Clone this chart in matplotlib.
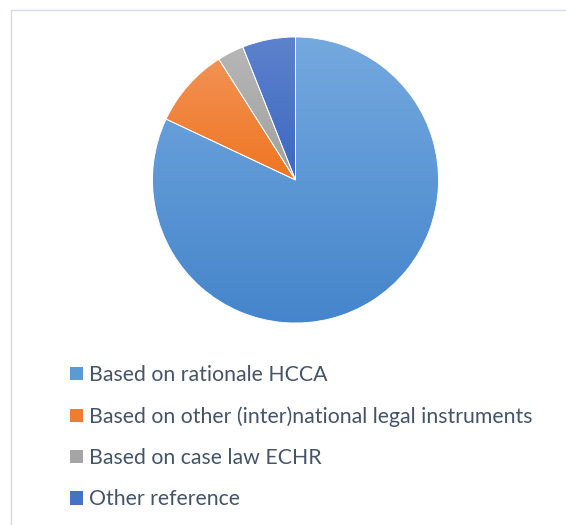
import matplotlib
matplotlib.use("Agg")
import matplotlib.pyplot as plt
import numpy as np
from matplotlib.colors import LinearSegmentedColormap
from matplotlib.patches import Patch
from matplotlib.lines import Line2D

labels = ["Based on rationale HCCA",
          "Based on other (inter)national legal instruments",
          "Based on case law ECHR",
          "Other reference"]
values = [82, 9, 3, 6]
top_colors = ["#74a9df", "#f29255", "#b6b6b6", "#5d82cd"]
bottom_colors = ["#4585cb", "#ef7520", "#a0a0a0", "#3c68c1"]
legend_colors = ["#5b9bd5", "#ed7d31", "#a5a5a5", "#4472c4"]

W, H = 566, 525
fig = plt.figure(figsize=(W / 100, H / 100), dpi=100)

cx, cy, r = 295.5, 180, 143
ax = fig.add_axes([(cx - r) / W, (H - cy - r) / H, 2 * r / W, 2 * r / H])
wedges, _ = ax.pie(values, startangle=90, counterclock=False, radius=1,
                   colors=legend_colors,
                   wedgeprops=dict(edgecolor="white", linewidth=0.6))
ax.set_aspect("equal")
ax.axis("off")

grad = np.linspace(0, 1, 256).reshape(-1, 1)
for w, tc, bc in zip(wedges, top_colors, bottom_colors):
    ext = w.get_path().get_extents()
    cmap = LinearSegmentedColormap.from_list("g", [bc, tc])
    im = ax.imshow(grad, cmap=cmap, origin="lower", aspect="auto",
                   extent=[ext.x0, ext.x1, ext.y0, ext.y1], zorder=w.get_zorder() + 0.1)
    im.set_clip_path(w)
    w.set_facecolor("none")
    w.set_zorder(w.get_zorder() + 0.2)
ax.set_xlim(-1.0, 1.0)
ax.set_ylim(-1.0, 1.0)

fs = 15.3
handles = [Patch(facecolor=c, edgecolor="none") for c in legend_colors]
leg = fig.legend(handles, labels, loc="upper left",
                 bbox_to_anchor=(70 / W, 1 - 365 / H),
                 frameon=False,
                 handlelength=0.6, handleheight=0.6, handletextpad=0.3,
                 labelspacing=1.0, borderpad=0, borderaxespad=0,
                 prop=dict(family="Lato", size=fs))
for t in leg.get_texts():
    t.set_color("#445469")

# chart frame
fig.add_artist(Line2D([10.5 / W, 10.5 / W, 1.0], [0.0, 1 - 9.5 / H, 1 - 9.5 / H],
                      transform=fig.transFigure, color="#d5dbe4", linewidth=1.0))

fig.savefig("out.png", dpi=100)
